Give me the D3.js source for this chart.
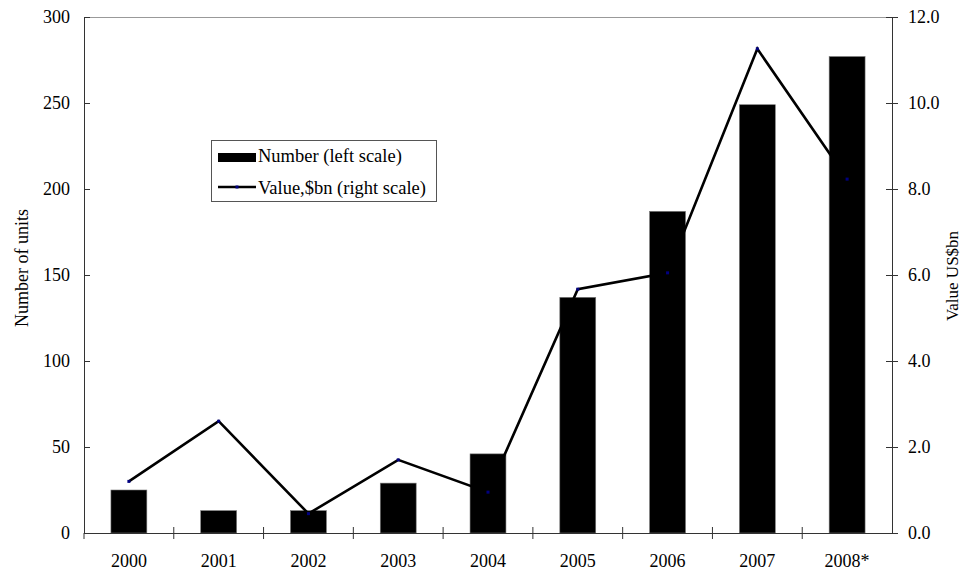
<!DOCTYPE html>
<html>
<head>
<meta charset="utf-8">
<script src="https://cdn.jsdelivr.net/npm/d3@7"></script>
<style>
  html, body { margin: 0; padding: 0; background: #fff; }
  svg text { font-family: "Liberation Serif", "Times New Roman", Times, "DejaVu Serif", serif; fill: #000; }
</style>
</head>
<body>
<svg id="chart" width="964" height="575"></svg>
<script>
// Yearly deals: number of units (bars, left axis) and value in US$bn (line, right axis)
const years = ["2000", "2001", "2002", "2003", "2004", "2005", "2006", "2007", "2008*"];
const units = [25, 13, 13, 29, 46, 137, 187, 249, 277];
const valueBn = [1.2, 2.6, 0.45, 1.7, 0.95, 5.67, 6.05, 11.26, 8.23];
const leftTicks = [0, 50, 100, 150, 200, 250, 300];
const rightTicks = [0, 2, 4, 6, 8, 10, 12];

const svg = d3.select("#chart");
const m = { left: 84, right: 892, top: 17, bottom: 533 };
const fontSize = 18;
const serif = '"Liberation Serif", "Times New Roman", Times, "DejaVu Serif", serif';

const x = d3.scaleBand().domain(years).range([m.left, m.right]).padding(0);
const yL = d3.scaleLinear().domain([0, 300]).range([m.bottom, m.top]);
const yR = d3.scaleLinear().domain([0, 12]).range([m.bottom, m.top]);

// top frame line
svg.append("line")
  .attr("x1", m.left).attr("x2", m.right)
  .attr("y1", m.top + 0.5).attr("y2", m.top + 0.5)
  .attr("stroke", "#999").attr("stroke-width", 1);

// bars
const barW = x.bandwidth() * 0.4;
svg.append("g").selectAll("rect").data(years).join("rect")
  .attr("x", d => x(d) + (x.bandwidth() - barW) / 2)
  .attr("width", barW)
  .attr("y", (d, i) => yL(units[i]))
  .attr("height", (d, i) => m.bottom - yL(units[i]))
  .attr("fill", "#000")
  .attr("stroke", "#777").attr("stroke-width", 0.6);

// value line
const pts = years.map((d, i) => [x(d) + x.bandwidth() / 2, yR(valueBn[i])]);
svg.append("path")
  .attr("d", d3.line()(pts))
  .attr("fill", "none").attr("stroke", "#000")
  .attr("stroke-width", 2.6).attr("stroke-linejoin", "miter");
svg.append("g").selectAll("rect").data(pts).join("rect")
  .attr("x", d => d[0] - 1.5).attr("y", d => d[1] - 1.5)
  .attr("width", 3).attr("height", 3)
  .attr("fill", "#000080");

function styleText(sel, size) {
  sel.attr("font-family", serif).style("font-family", serif)
    .style("font-size", (size || fontSize) + "px").attr("fill", "#000");
  return sel;
}

// left axis
const axL = svg.append("g").attr("transform", `translate(${m.left},0)`)
  .call(d3.axisLeft(yL).tickValues(leftTicks).tickFormat(d3.format("d"))
    .tickSizeInner(6).tickSizeOuter(0).tickPadding(8));
axL.selectAll(".tick line").attr("x2", 6).attr("stroke", "#333");
axL.select(".domain").attr("stroke", "#333");
styleText(axL.selectAll("text"));

// right axis
const axR = svg.append("g").attr("transform", `translate(${m.right},0)`)
  .call(d3.axisRight(yR).tickValues(rightTicks).tickFormat(d3.format(".1f"))
    .tickSizeInner(6).tickSizeOuter(0).tickPadding(10));
axR.selectAll(".tick line").attr("x1", -6).attr("stroke", "#333");
axR.select(".domain").attr("stroke", "#333");
styleText(axR.selectAll("text"));

// category axis
const axB = svg.append("g").attr("transform", `translate(0,${m.bottom})`)
  .call(d3.axisBottom(x).tickSize(0).tickPadding(21));
axB.select(".domain").attr("stroke", "#333").attr("d", `M${m.left},0.5H${m.right}`);
styleText(axB.selectAll("text"));
// category separators
svg.append("g").selectAll("line").data(years.slice(1)).join("line")
  .attr("x1", d => x(d)).attr("x2", d => x(d))
  .attr("y1", m.bottom - 6).attr("y2", m.bottom + 6)
  .attr("stroke", "#333");
svg.append("line")
  .attr("x1", m.left).attr("x2", m.left)
  .attr("y1", m.bottom).attr("y2", m.bottom + 6).attr("stroke", "#333");

// axis titles
styleText(svg.append("text")
  .attr("transform", `translate(28,268) rotate(-90)`)
  .attr("text-anchor", "middle")
  .text("Number of units"), 18);
styleText(svg.append("text")
  .attr("transform", `translate(958,276) rotate(-90)`)
  .attr("text-anchor", "middle")
  .text("Value US$bn"), 17);

// legend
const lg = svg.append("g");
lg.append("rect").attr("x", 211.5).attr("y", 140.5).attr("width", 225).attr("height", 61)
  .attr("fill", "#fff").attr("stroke", "#555").attr("stroke-width", 1);
lg.append("rect").attr("x", 218).attr("y", 153).attr("width", 38).attr("height", 9).attr("fill", "#000");
styleText(lg.append("text").attr("x", 258).attr("y", 161.5).text("Number (left scale)"), 18.5);
lg.append("line").attr("x1", 218).attr("x2", 256).attr("y1", 187).attr("y2", 187)
  .attr("stroke", "#000").attr("stroke-width", 2.4);
lg.append("rect").attr("x", 235.5).attr("y", 185.5).attr("width", 3).attr("height", 3).attr("fill", "#000080");
styleText(lg.append("text").attr("x", 258).attr("y", 193.5).text("Value,$bn (right scale)"), 18.5);
</script>
</body>
</html>
